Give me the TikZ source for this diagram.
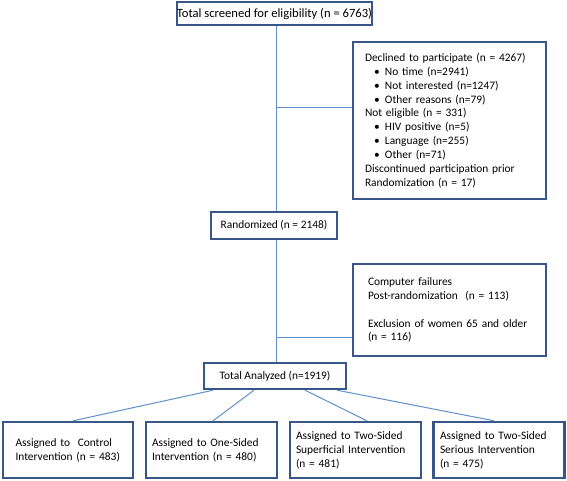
\documentclass[tikz,border=0pt]{standalone}
\usepackage{fontspec}
\setmainfont{Carlito}
\newcommand\bitem{\makebox[20pt][l]{\hspace*{9pt}\textbullet}}
\definecolor{boxcol}{RGB}{56,86,135}
\definecolor{linecol}{RGB}{95,143,204}
\begin{document}
\begin{tikzpicture}[x=1pt,y=-1pt,
  box/.style={draw=boxcol,line width=2.4pt,fill=white,inner sep=0pt,font=\fontsize{11.4}{13.9}\selectfont},
  lbox/.style={box,align=left},
  conn/.style={draw=linecol,line width=1pt}]
\useasboundingbox (0,0) rectangle (567,480);
\coordinate (spine) at (276.5,0);
\coordinate (j1) at (276.5,107);
\coordinate (j2) at (276.5,337);
% boxes
\node[box,minimum width=193pt,minimum height=23pt,font=\fontsize{12.6}{14}\selectfont] (top) at (274.5,13.5) {Total screened for eligibility (n = 6763)};
\node[box,minimum width=126pt,minimum height=27pt] (rand) at (274,225.5) {Randomized (n = 2148)};
\node[box,minimum width=142pt,minimum height=26pt] (anal) at (275,376) {Total Analyzed (n=1919)};
\node[lbox,text width=169pt,inner xsep=12pt,minimum height=157pt] (decl) at (449.5,120.5) {Declined to participate (n = 4267)\\
\bitem No time (n=2941)\\
\bitem Not interested (n=1247)\\
\bitem Other reasons (n=79)\\
Not eligible (n = 331)\\
\bitem HIV positive (n=5)\\
\bitem Language (n=255)\\
\bitem Other (n=71)\\
Discontinued participation prior\\
Randomization (n = 17)};
\node[lbox,text width=163pt,inner xsep=15pt,minimum height=92pt] (excl) at (449.5,310) {Computer failures\\
Post-randomization\ \ (n = 113)\\[13.9pt]
Exclusion of women 65 and older\\
(n = 116)};
\node[lbox,text width=117pt,inner xsep=6.5pt,minimum height=56pt] (b1) at (68,450) {\hspace*{6pt}Assigned to\ \ Control\\\hspace*{6pt}Intervention (n = 483)};
\node[lbox,text width=119pt,inner xsep=6pt,minimum height=56pt] (b2) at (211.5,450) {Assigned to One-Sided\\Intervention (n = 480)};
\node[lbox,text width=119pt,inner xsep=6pt,minimum height=56pt] (b3) at (355.5,450) {Assigned to Two-Sided\\Superficial Intervention\\(n = 481)};
\node[lbox,text width=118pt,inner xsep=6.5pt,minimum height=56pt] (b4) at (499,450) {Assigned to Two-Sided\\Serious Intervention\\(n = 475)};
% connectors
\draw[conn] (top.south -| spine) -- (rand.north -| spine);
\draw[conn] (j1) -- (j1 -| decl.west);
\draw[conn] (rand.south -| spine) -- (anal.north -| spine);
\draw[conn] (j2) -- (j2 -| excl.west);
\draw[conn] ([xshift=-62pt]anal.south) -- ([xshift=5pt]b1.north);
\draw[conn] ([xshift=-21pt]anal.south) -- ([xshift=1.5pt]b2.north);
\draw[conn] ([xshift=30pt]anal.south) -- ([xshift=11.5pt]b3.north);
\draw[conn] ([xshift=62pt]anal.south) -- ([xshift=-5pt]b4.north);
\end{tikzpicture}
\end{document}
